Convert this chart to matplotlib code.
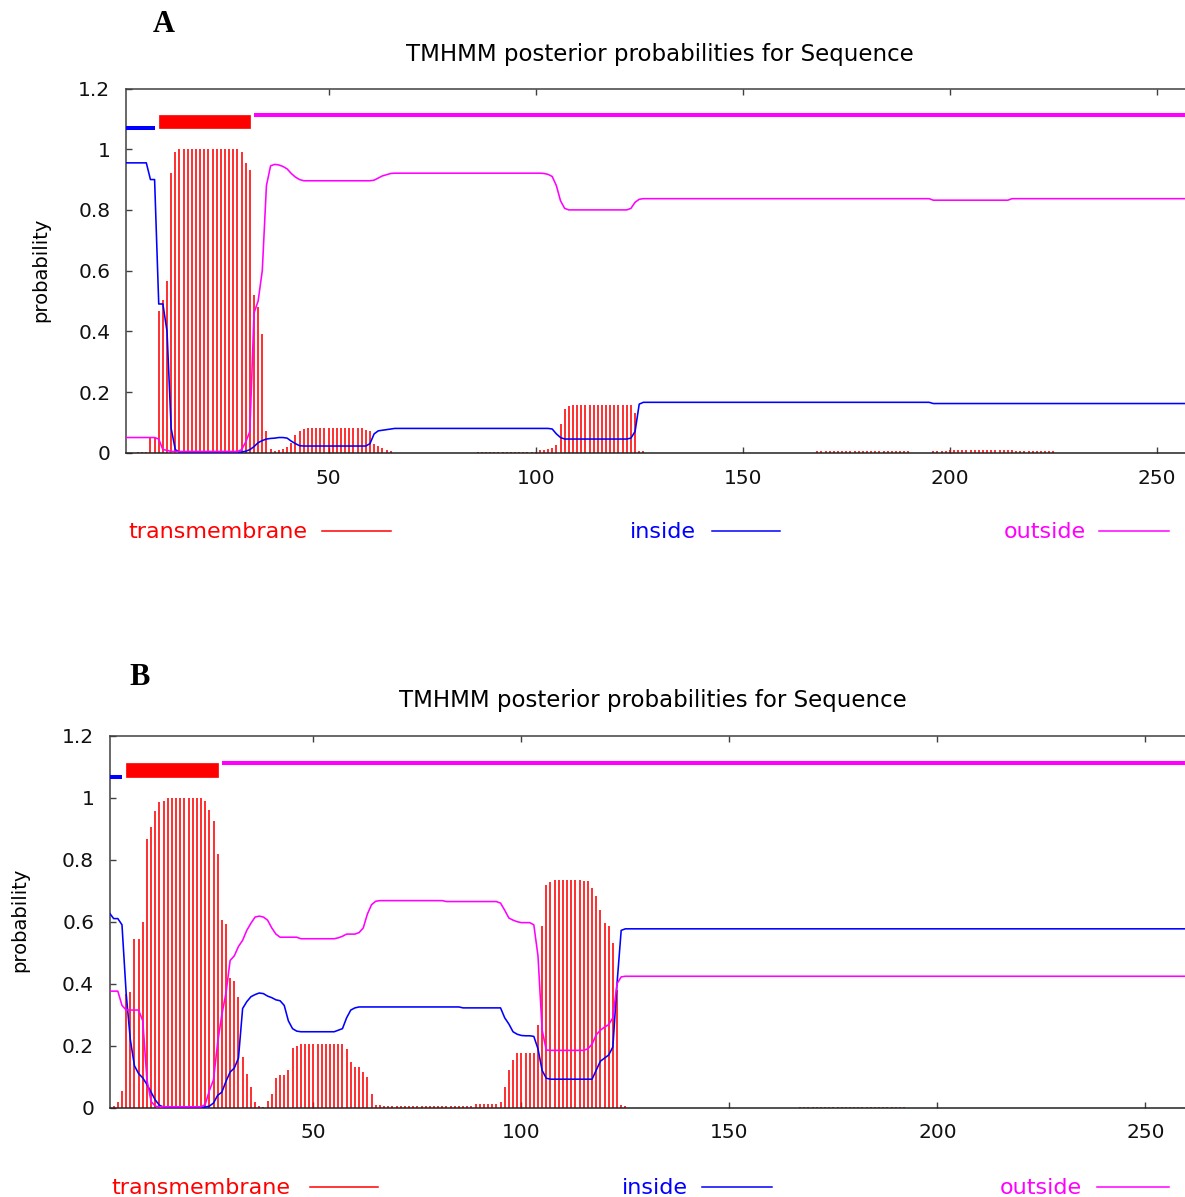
import matplotlib
matplotlib.use('Agg')
import matplotlib.pyplot as plt
import numpy as np
from matplotlib.lines import Line2D
from matplotlib.patches import Rectangle

W, H, DPI = 1185, 1197, 100
RED, BLUE, MAG = '#ff0000', '#0000ff', '#ff00ff'
SPINE = '#404040'

# ---------------- Panel A data (per residue, starting at residue 1) ----------------
A_tm = ([0.0] * 3 + [0.003] * 3 + [0.05] * 2 +
        [0.466, 0.504, 0.567, 0.92, 0.99] + [1.0] * 15 +
        [0.99, 0.955, 0.93, 0.52, 0.48, 0.39, 0.07] +
        [0.012, 0.005, 0.008, 0.013, 0.018, 0.031, 0.058, 0.071, 0.079] +
        [0.083] * 14 + [0.074, 0.072, 0.03, 0.022, 0.015, 0.008, 0.005] +
        [0.0] * 20 + [0.003] * 15 +
        [0.008, 0.01, 0.012, 0.015, 0.027, 0.095, 0.145, 0.155] + [0.158] * 15 +
        [0.13, 0.004, 0.004] + [0.0] * 41 + [0.004] * 23 + [0.0] * 5 +
        [0.004] * 4 + [0.009] * 16 + [0.005] * 10 + [0.0] * 35)

A_inside = ([0.955] * 6 + [0.9, 0.9] + [0.49, 0.49, 0.40, 0.08, 0.01] + [0.002] * 16 +
            [0.005, 0.01, 0.02, 0.033, 0.04, 0.045, 0.047, 0.048, 0.05, 0.05, 0.048,
             0.038, 0.03, 0.023, 0.022] +
            [0.022] * 15 + [0.03, 0.062, 0.072, 0.074, 0.076, 0.078] + [0.08] * 38 +
            [0.078, 0.062, 0.05] + [0.045] * 16 + [0.048, 0.07, 0.16] +
            [0.166] * 70 + [0.162] * 65)

A_outside = ([0.05] * 8 + [0.045, 0.01, 0.008] + [0.004] * 17 +
             [0.01, 0.035, 0.07, 0.46, 0.5, 0.6, 0.88, 0.945, 0.95, 0.948, 0.943, 0.935,
              0.92, 0.908, 0.9] +
             [0.896] * 17 + [0.898, 0.905, 0.912, 0.916, 0.92] + [0.921] * 36 +
             [0.92, 0.917, 0.91, 0.88, 0.83, 0.805] + [0.80] * 15 +
             [0.805, 0.825, 0.835] + [0.837] * 70 + [0.832] * 19 + [0.837] * 46)

# predicted topology segments (state, first residue, last residue)
A_segments = [('inside', 1, 8), ('TM', 9, 31), ('outside', 32, 260)]

# ---------------- Panel B data ----------------
B_tm = ([0.0, 0.005, 0.02, 0.054, 0.368, 0.374, 0.545, 0.545, 0.60, 0.867, 0.905, 0.958,
         0.985, 0.99] + [1.0] * 9 +
        [0.99, 0.96, 0.925, 0.82, 0.604, 0.594, 0.42, 0.41, 0.357, 0.164, 0.11, 0.068,
         0.02, 0.005, 0.002, 0.022, 0.043, 0.096, 0.105, 0.105, 0.121, 0.193, 0.199] +
        [0.207] * 11 + [0.188, 0.148, 0.13, 0.13, 0.116, 0.10, 0.043, 0.009, 0.008] +
        [0.004] * 15 + [0.006] * 7 + [0.012] * 6 +
        [0.018, 0.068, 0.121, 0.153, 0.175, 0.175, 0.178, 0.178, 0.178, 0.266, 0.585,
         0.717, 0.728, 0.733] + [0.735] * 6 +
        [0.732, 0.732, 0.71, 0.683, 0.637, 0.596, 0.585, 0.531, 0.38, 0.008, 0.004] +
        [0.0] * 41 + [0.003] * 26 + [0.0] * 68)

B_inside = ([0.628, 0.61, 0.61, 0.59, 0.37, 0.22, 0.135, 0.11, 0.096, 0.075, 0.05, 0.025,
             0.008] + [0.002] * 11 +
            [0.005, 0.015, 0.04, 0.05, 0.085, 0.115, 0.128, 0.16, 0.32, 0.342, 0.358, 0.365,
             0.37, 0.368, 0.36, 0.355, 0.348, 0.345, 0.33, 0.28, 0.255, 0.247] +
            [0.245] * 9 + [0.25, 0.255, 0.29, 0.315, 0.322] + [0.325] * 25 + [0.322] * 10 +
            [0.29, 0.27, 0.245, 0.237, 0.233, 0.232, 0.232, 0.23, 0.19, 0.12, 0.095] +
            [0.092] * 11 + [0.121, 0.15, 0.16, 0.17, 0.196, 0.40, 0.572] + [0.577] * 136)

B_outside = ([0.376, 0.376, 0.376, 0.33] + [0.315] * 4 + [0.28, 0.09, 0.02, 0.005] +
             [0.003] * 11 +
             [0.01, 0.055, 0.09, 0.21, 0.30, 0.37, 0.475, 0.49, 0.52, 0.54, 0.572, 0.595,
              0.615, 0.618, 0.615, 0.605, 0.58, 0.56] +
             [0.55] * 5 + [0.545] * 9 +
             [0.548, 0.553, 0.56, 0.56, 0.56, 0.565, 0.58, 0.625, 0.655, 0.666] +
             [0.668] * 16 + [0.665] * 13 +
             [0.66, 0.637, 0.612, 0.605, 0.6, 0.597, 0.597, 0.597, 0.59, 0.49, 0.25, 0.186] +
             [0.185] * 9 + [0.19, 0.205, 0.235, 0.25, 0.26, 0.268, 0.29, 0.40, 0.422] +
             [0.424] * 136)

B_segments = [('inside', 1, 4), ('TM', 5, 27), ('outside', 28, 260)]

xticks = [50, 100, 150, 200, 250]
yticks = [0, 0.2, 0.4, 0.6, 0.8, 1.0, 1.2]
ytick_labels = ['0', '0.2', '0.4', '0.6', '0.8', '1', '1.2']
title_text = 'TMHMM posterior probabilities for Sequence'
legend_names = ['transmembrane', 'inside', 'outside']

plt.rcParams['font.family'] = ['DejaVu Sans']
fig = plt.figure(figsize=(W / DPI, H / DPI), dpi=DPI)
fig.patch.set_facecolor('white')


def fx(px):
    return px / W


def fy(py):
    return 1 - py / H


def panel(left, right, top, bottom, px_per_unit, tm, inside, outside, segments,
          seg_y, xpad):
    ax = fig.add_axes([fx(left), fy(bottom), fx(right) - fx(left), (bottom - top) / H])
    res = np.arange(1, len(tm) + 1)
    ax.vlines(res, 0, tm, color=RED, lw=1.15, zorder=2)
    ax.plot(np.arange(1, len(inside) + 1), inside, color=BLUE, lw=1.15, zorder=3)
    ax.plot(np.arange(1, len(outside) + 1), outside, color=MAG, lw=1.15, zorder=3)
    y_in, y_tm0, y_tm1, y_out = seg_y
    for state, s, e in segments:
        if state == 'inside':
            ax.plot([s, e], [y_in, y_in], color=BLUE, lw=2.9, solid_capstyle='butt', zorder=4)
        elif state == 'outside':
            ax.plot([s, e], [y_out, y_out], color=MAG, lw=2.9, solid_capstyle='butt', zorder=4)
        else:
            ax.add_patch(Rectangle((s, y_tm0), e - s, y_tm1 - y_tm0, facecolor=RED,
                                   edgecolor=RED, lw=0.5, zorder=4))
    ax.set_xlim(1, 1 + (right - left) / px_per_unit)
    ax.set_ylim(0, 1.2)
    ax.set_xticks(xticks)
    ax.set_yticks(yticks)
    ax.set_yticklabels(ytick_labels)
    ax.tick_params(axis='both', direction='in', length=4, width=1.0, color=SPINE,
                   labelsize=14.5, labelcolor='#111111')
    ax.tick_params(axis='x', top=True, pad=xpad)
    ax.tick_params(axis='y', pad=11)
    for sp in ax.spines.values():
        sp.set_color(SPINE)
        sp.set_linewidth(1.1)
    ax.spines['bottom'].set_color('#222222')
    return ax


axA = panel(125.6, 1192, 88.5, 452.7, 4.142, A_tm, A_inside, A_outside, A_segments,
            (1.070, 1.071, 1.114, 1.114), 12)
axB = panel(109.5, 1192, 735.7, 1107.7, 4.16, B_tm, B_inside, B_outside, B_segments,
            (1.068, 1.067, 1.111, 1.111), 11)

# titles, panel letters, axis labels
fig.text(fx(660), fy(55), title_text, ha='center', va='center', fontsize=16.5)
fig.text(fx(653), fy(701), title_text, ha='center', va='center', fontsize=16.5)
fig.text(fx(163.5), fy(24), 'A', ha='center', va='center', fontsize=22,
         fontweight='bold', family='Liberation Serif')
fig.text(fx(140), fy(677.5), 'B', ha='center', va='center', fontsize=22,
         fontweight='bold', family='Liberation Serif')
fig.text(fx(41), fy(270), 'probability', rotation=90, ha='center', va='center', fontsize=14)
fig.text(fx(20), fy(920), 'probability', rotation=90, ha='center', va='center', fontsize=14)

# legends (text followed by a short line sample)
legend_colors = [RED, BLUE, MAG]
legA = [(128, 321.5, 390.8), (630, 711.6, 779.7), (1004, 1099, 1168.6)]
legB = [(111, 310, 377.7), (622, 702.4, 772), (1000, 1097, 1169)]
for spec, base_y, line_y in [(legA, 538.5, 530.7), (legB, 1194, 1186.7)]:
    for name, col, (tx, l0, l1) in zip(legend_names, legend_colors, spec):
        fig.text(fx(tx), fy(base_y), name, color=col, ha='left', va='baseline', fontsize=16)
        fig.add_artist(Line2D([fx(l0), fx(l1)], [fy(line_y), fy(line_y)],
                              transform=fig.transFigure, color=col, lw=1.1))

fig.savefig('out.png', dpi=DPI, facecolor='white')
